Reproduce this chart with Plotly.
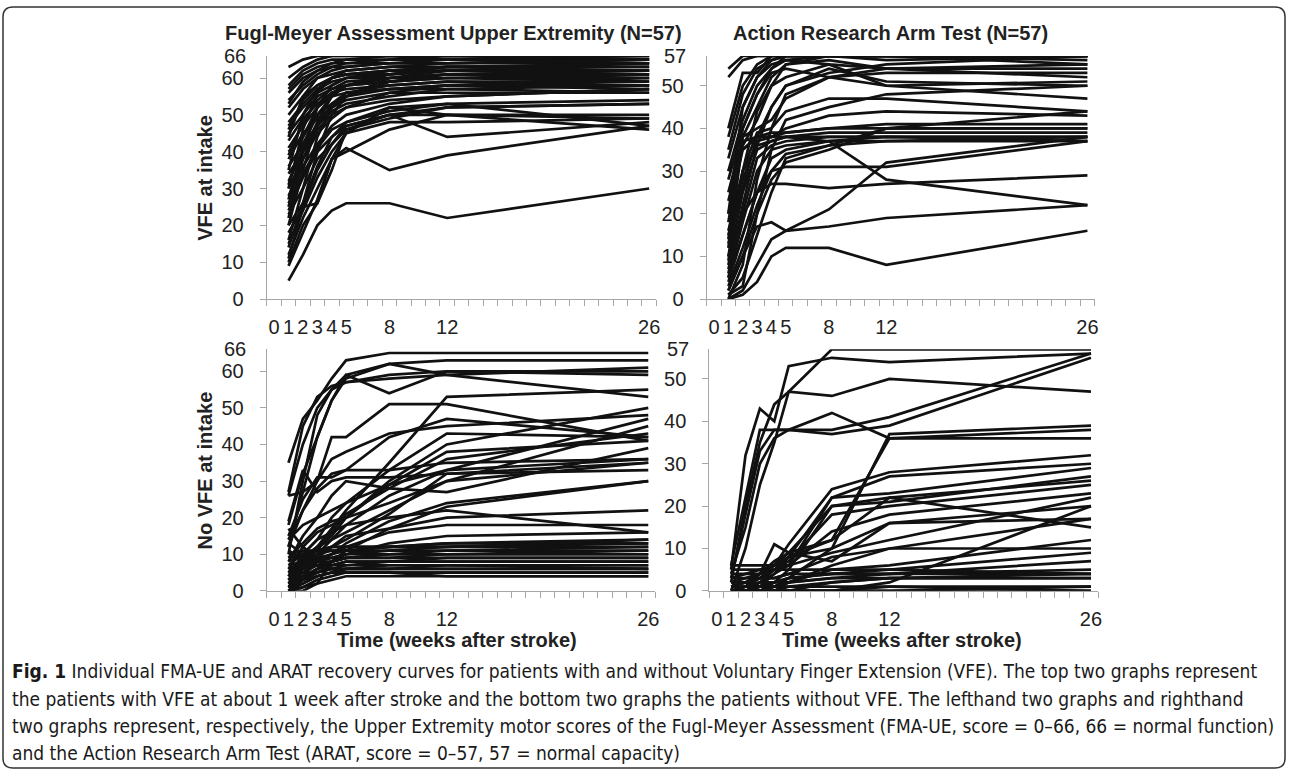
import plotly.graph_objects as go

WEEKS = [1, 2, 3, 4, 5, 8, 12, 26]
X_TICK_VALS = [0, 1, 2, 3, 4, 5, 8, 12, 26]
FMA_TICKS = [0, 10, 20, 30, 40, 50, 60]
ARAT_TICKS = [0, 10, 20, 30, 40, 50]

TITLE_FMA = "Fugl-Meyer Assessment Upper Extremity (N=57)"
TITLE_ARAT = "Action Research Arm Test (N=57)"
ROW_TITLES = ["VFE at intake", "No VFE at intake"]
X_TITLE = "Time (weeks after stroke)"

# FMA-UE, patients with VFE at intake
FMA_VFE = [
    [63, 65, 66, 66, 66, 66, 66, 66], [60, 63, 65, 66, 66, 66, 66, 66],
    [58, 62, 64, 65, 65, 66, 65, 65], [56, 60, 62, 64, 64, 65, 65, 64],
    [54, 58, 61, 63, 64, 64, 64, 65], [52, 57, 60, 61, 62, 63, 63, 63],
    [50, 55, 58, 60, 61, 62, 62, 62], [48, 53, 57, 59, 60, 61, 62, 61],
    [47, 52, 56, 58, 60, 60, 61, 60], [45, 50, 55, 57, 58, 59, 60, 59],
    [43, 49, 53, 56, 57, 58, 59, 58], [41, 47, 52, 55, 56, 57, 58, 57],
    [40, 44, 50, 53, 55, 57, 57, 56], [38, 45, 49, 52, 54, 56, 56, 56],
    [36, 42, 47, 51, 53, 55, 57, 58], [34, 40, 46, 50, 52, 54, 55, 57],
    [32, 40, 48, 52, 55, 60, 62, 64], [30, 38, 45, 49, 52, 56, 58, 60],
    [28, 36, 42, 47, 50, 53, 55, 57], [26, 34, 41, 46, 48, 51, 53, 54],
    [24, 33, 40, 44, 47, 50, 52, 53], [23, 30, 38, 42, 46, 49, 52, 53],
    [20, 26, 36, 44, 48, 52, 50, 50], [18, 25, 35, 42, 47, 50, 50, 49],
    [15, 24, 33, 40, 45, 48, 48, 49], [12, 22, 30, 38, 45, 52, 53, 47],
    [10, 20, 26, 38, 40, 46, 50, 46], [9, 18, 27, 38, 41, 35, 39, 47],
    [11, 25, 26, 35, 46, 50, 44, 48], [5, 12, 20, 24, 26, 26, 22, 30],
    [14, 26, 40, 50, 55, 59, 61, 62], [35, 50, 57, 60, 62, 63, 64, 65],
    [44, 55, 60, 62, 63, 64, 64, 64], [25, 40, 52, 58, 60, 62, 63, 63],
    [30, 46, 56, 60, 61, 61, 62, 62], [20, 35, 48, 55, 58, 60, 60, 61],
    [57, 61, 63, 64, 65, 65, 66, 65], [53, 59, 62, 63, 63, 64, 65, 66],
    [46, 54, 58, 60, 61, 62, 63, 62], [39, 48, 54, 57, 59, 60, 61, 61],
    [31, 44, 52, 56, 58, 59, 60, 60], [22, 38, 47, 53, 56, 58, 59, 59],
    [16, 30, 44, 52, 56, 57, 58, 58], [27, 42, 50, 55, 58, 61, 63, 64],
]

# ARAT, patients with VFE at intake
ARAT_VFE = [
    [54, 57, 57, 57, 57, 57, 57, 57], [52, 56, 57, 57, 57, 57, 57, 57],
    [40, 53, 53, 57, 57, 57, 57, 57], [38, 50, 55, 57, 57, 57, 57, 56],
    [35, 48, 54, 56, 57, 57, 56, 57], [33, 45, 52, 55, 56, 57, 57, 55],
    [30, 42, 50, 54, 56, 55, 54, 54], [28, 40, 48, 53, 54, 52, 53, 53],
    [25, 38, 45, 52, 55, 56, 54, 52], [23, 36, 42, 50, 52, 55, 50, 51],
    [20, 35, 38, 45, 50, 54, 51, 50], [18, 38, 40, 42, 47, 52, 50, 47],
    [16, 30, 39, 40, 44, 47, 47, 44], [15, 28, 37, 38, 40, 43, 44, 43],
    [13, 26, 38, 39, 39, 40, 41, 41], [12, 37, 38, 38, 39, 40, 40, 40],
    [10, 30, 36, 37, 38, 39, 39, 39], [8, 25, 35, 37, 38, 38, 38, 38],
    [7, 20, 33, 36, 37, 38, 38, 38], [5, 18, 30, 35, 36, 37, 38, 37],
    [4, 15, 25, 33, 35, 37, 37, 37], [3, 12, 22, 30, 34, 36, 37, 38],
    [2, 10, 20, 28, 32, 35, 40, 40], [0, 1, 4, 10, 12, 12, 8, 16],
    [0, 2, 8, 14, 16, 17, 19, 22], [2, 10, 17, 18, 16, 21, 32, 38],
    [10, 20, 25, 27, 27, 26, 27, 29], [30, 35, 38, 38, 38, 37, 28, 22],
    [5, 15, 25, 30, 31, 31, 31, 37], [1, 5, 15, 25, 33, 36, 40, 44],
    [6, 22, 36, 45, 50, 53, 55, 57], [0, 8, 28, 40, 48, 52, 54, 55],
    [14, 40, 48, 54, 57, 57, 57, 57], [20, 45, 52, 56, 57, 57, 57, 57],
    [1, 3, 20, 35, 42, 45, 48, 50], [9, 30, 44, 50, 55, 57, 57, 57],
]

# FMA-UE, patients without VFE at intake
FMA_NOVFE = [
    [35, 47, 52, 58, 63, 65, 65, 65], [26, 40, 50, 55, 59, 62, 63, 63],
    [27, 45, 53, 56, 57, 58, 59, 61], [18, 32, 42, 52, 59, 54, 60, 60],
    [12, 27, 42, 52, 58, 62, 59, 53], [10, 30, 48, 55, 57, 59, 60, 59],
    [12, 22, 30, 42, 42, 51, 51, 41], [5, 8, 12, 17, 22, 35, 53, 55],
    [26, 27, 30, 36, 38, 43, 45, 48], [14, 22, 28, 32, 33, 42, 47, 42],
    [19, 33, 27, 30, 31, 31, 32, 35], [8, 15, 20, 26, 30, 28, 27, 39],
    [6, 12, 16, 18, 20, 30, 40, 50], [4, 10, 14, 20, 24, 33, 43, 42],
    [5, 9, 12, 15, 20, 29, 38, 41], [3, 8, 11, 16, 21, 28, 36, 43],
    [2, 7, 10, 14, 18, 26, 33, 36], [4, 9, 12, 14, 16, 22, 30, 35],
    [1, 6, 9, 12, 14, 21, 32, 33], [0, 4, 8, 10, 13, 19, 24, 30],
    [0, 0, 2, 8, 11, 17, 23, 30], [3, 7, 10, 12, 15, 17, 20, 22],
    [2, 5, 8, 10, 12, 16, 18, 18], [1, 3, 6, 8, 10, 13, 15, 16],
    [8, 10, 11, 12, 12, 12, 13, 14], [6, 8, 10, 11, 11, 12, 12, 13],
    [10, 11, 11, 12, 12, 12, 12, 12], [4, 6, 8, 9, 10, 10, 11, 11],
    [3, 5, 7, 8, 9, 10, 10, 10], [5, 6, 7, 8, 9, 9, 9, 9],
    [2, 4, 6, 7, 8, 8, 8, 8], [1, 3, 5, 6, 7, 7, 7, 7],
    [0, 2, 4, 5, 6, 6, 6, 6], [0, 1, 3, 4, 5, 5, 5, 5],
    [0, 1, 2, 3, 4, 4, 4, 4], [7, 10, 14, 16, 18, 20, 22, 16],
    [9, 13, 17, 19, 20, 24, 30, 45], [15, 25, 31, 31, 33, 33, 35, 36],
    [14, 18, 20, 22, 24, 29, 33, 47],
    [1, 2, 4, 5, 5, 5, 5, 5], [3, 4, 5, 6, 6, 6, 7, 7],
    [6, 7, 8, 8, 9, 9, 10, 10], [9, 10, 11, 11, 11, 11, 11, 12],
    [2, 3, 4, 5, 6, 6, 6, 6], [0, 3, 5, 7, 8, 8, 9, 9],
    [5, 7, 9, 10, 11, 12, 13, 13], [1, 4, 6, 8, 9, 10, 10, 11],
    [7, 8, 9, 9, 10, 11, 12, 14], [11, 9, 8, 7, 7, 8, 8, 8],
    [17, 12, 9, 6, 5, 5, 4, 4], [13, 10, 7, 6, 6, 7, 7, 6],
]

# ARAT, patients without VFE at intake
ARAT_NOVFE = [
    [5, 32, 43, 40, 53, 55, 54, 56], [2, 20, 35, 44, 47, 57, 57, 57],
    [0, 10, 25, 35, 47, 46, 50, 47], [6, 22, 38, 38, 38, 38, 41, 56],
    [4, 15, 30, 36, 38, 37, 39, 55], [3, 18, 33, 38, 38, 42, 36, 36],
    [0, 0, 2, 5, 8, 10, 37, 39], [1, 2, 4, 7, 9, 12, 36, 38],
    [0, 1, 3, 6, 11, 24, 28, 32], [6, 6, 6, 6, 6, 22, 27, 30],
    [0, 0, 1, 4, 8, 22, 23, 29], [2, 3, 4, 6, 9, 20, 21, 27],
    [0, 0, 0, 2, 5, 20, 22, 26], [1, 2, 3, 5, 7, 18, 20, 25],
    [0, 1, 2, 4, 6, 14, 18, 23], [3, 4, 5, 6, 8, 12, 22, 15],
    [0, 0, 0, 1, 3, 10, 16, 20], [4, 4, 4, 5, 6, 9, 12, 22],
    [2, 2, 3, 3, 4, 8, 10, 17], [0, 0, 0, 0, 2, 6, 10, 10],
    [0, 0, 0, 1, 2, 5, 6, 12], [1, 1, 2, 2, 3, 4, 5, 9],
    [0, 0, 1, 1, 2, 3, 4, 7], [3, 3, 3, 3, 4, 4, 4, 4],
    [0, 0, 0, 0, 1, 2, 3, 4], [0, 0, 0, 0, 0, 2, 3, 3],
    [0, 0, 0, 0, 0, 0, 1, 1], [0, 0, 0, 0, 0, 0, 0, 0],
    [2, 2, 1, 1, 1, 1, 1, 0], [0, 0, 0, 0, 0, 0, 2, 20],
    [0, 1, 4, 11, 9, 7, 16, 17], [0, 0, 0, 0, 0, 0, 0, 1],
    [1, 1, 1, 2, 2, 3, 3, 3], [0, 0, 1, 2, 3, 4, 4, 5],
    [5, 5, 5, 5, 5, 5, 5, 4],
]

CAPTION_LINES = [
    "<b>Fig. 1</b> Individual FMA-UE and ARAT recovery curves for patients with and without Voluntary Finger Extension (VFE). The top two graphs represent",
    "the patients with VFE at about 1 week after stroke and the bottom two graphs the patients without VFE. The lefthand two graphs and righthand",
    "two graphs represent, respectively, the Upper Extremity motor scores of the Fugl-Meyer Assessment (FMA-UE, score = 0–66, 66 = normal function)",
    "and the Action Research Arm Test (ARAT, score = 0–57, 57 = normal capacity)",
]

W, H = 1292, 782
FONT = "Liberation Sans, Arial, sans-serif"
NARROW = "Liberation Sans Narrow, DejaVu Sans Condensed, Arial Narrow, sans-serif"
LINE_COLOR = "#111111"
AXIS_COLOR = "#a6a6a6"
TEXT_COLOR = "#222222"


def px_x(v):
    return v / W


def px_y(v):
    return 1 - v / H


# panel pixel boxes: (left, right, top, bottom)
panels = [
    ("x", "y", FMA_VFE, 66, FMA_TICKS, (267.7, 658.4, 56.7, 303.3)),
    ("x2", "y2", ARAT_VFE, 57, ARAT_TICKS, (709.0, 1098.0, 56.7, 303.3)),
    ("x3", "y3", FMA_NOVFE, 66, FMA_TICKS, (267.7, 657.5, 354.3, 599.3)),
    ("x4", "y4", ARAT_NOVFE, 57, ARAT_TICKS, (711.7, 1101.6, 354.3, 599.3)),
]

fig = go.Figure()
layout_axes = {}
annotations = []
for xa, ya, data, ymax, yticks, (l, r, t, b) in panels:
    for series in data:
        fig.add_trace(go.Scatter(
            x=WEEKS, y=series, xaxis=xa, yaxis=ya, mode="lines",
            line=dict(color=LINE_COLOR, width=2.7), showlegend=False,
            hoverinfo="skip"))
    xkey = "xaxis" + xa[1:]
    ykey = "yaxis" + ya[1:]
    layout_axes[xkey] = dict(
        domain=[px_x(l), px_x(r)], anchor=ya, range=[-0.5, 26.5],
        tickmode="array", tickvals=X_TICK_VALS, ticks="",
        showline=True, linecolor=AXIS_COLOR, linewidth=1.3,
        showgrid=False, zeroline=False, ticklabelstandoff=10,
        tickfont=dict(family=FONT, size=20, color=TEXT_COLOR),
        minor=dict(tickmode="linear", tick0=-0.5, dtick=1, ticks="outside",
                   ticklen=6, tickwidth=1.2, tickcolor=AXIS_COLOR,
                   showgrid=False),
    )
    layout_axes[ykey] = dict(
        domain=[px_y(b), px_y(t)], anchor=xa, range=[0, ymax],
        tickmode="array", tickvals=yticks, ticks="outside", ticklen=6,
        tickwidth=1.2, tickcolor=AXIS_COLOR,
        showline=True, linecolor=AXIS_COLOR, linewidth=1.3,
        showgrid=False, zeroline=False, ticklabelstandoff=12,
        tickfont=dict(family=FONT, size=20, color=TEXT_COLOR),
    )
    # top-of-scale label (no tick mark at the maximum)
    annotations.append(dict(
        x=px_x(l - 19), xref="paper", y=ymax, yref=ya, text=str(ymax),
        showarrow=False, xanchor="right", yanchor="middle",
        font=dict(family=FONT, size=20, color=TEXT_COLOR)))

fig.update_layout(**layout_axes)


def label(x, y, text, size=20, angle=0, anchor="center", family=FONT, color=TEXT_COLOR):
    return dict(x=px_x(x), y=px_y(y), xref="paper", yref="paper", text=text,
                showarrow=False, xanchor=anchor, yanchor="middle",
                textangle=angle, font=dict(family=family, size=size, color=color))


# panel titles
annotations.append(label(455, 33, "<b>" + TITLE_FMA + "</b>"))
annotations.append(label(893, 33, "<b>" + TITLE_ARAT + "</b>"))
# row titles
for txt, (t, b) in zip(ROW_TITLES, [(56.7, 303.3), (354.3, 599.3)]):
    annotations.append(label(206, (t + b) / 2, "<b>" + txt + "</b>", angle=-90))
# x titles
for cx in [458, 905]:
    annotations.append(label(cx, 649, "<b>" + X_TITLE + "</b>"))
# caption
for i, line in enumerate(CAPTION_LINES):
    annotations.append(label(10, 681 + 27.7 * i, line, size=19.0, anchor="left",
                             family=NARROW, color="#1a1a1a"))

# rounded frame
x0, x1, y0, y1, rr = 3, 1289, 7, 779, 10
path = (f"M {px_x(x0 + rr)} {px_y(y0)} L {px_x(x1 - rr)} {px_y(y0)} "
        f"Q {px_x(x1)} {px_y(y0)} {px_x(x1)} {px_y(y0 + rr)} "
        f"L {px_x(x1)} {px_y(y1 - rr)} Q {px_x(x1)} {px_y(y1)} {px_x(x1 - rr)} {px_y(y1)} "
        f"L {px_x(x0 + rr)} {px_y(y1)} Q {px_x(x0)} {px_y(y1)} {px_x(x0)} {px_y(y1 - rr)} "
        f"L {px_x(x0)} {px_y(y0 + rr)} Q {px_x(x0)} {px_y(y0)} {px_x(x0 + rr)} {px_y(y0)} Z")

fig.update_layout(
    width=W, height=H, margin=dict(l=0, r=0, t=0, b=0),
    paper_bgcolor="white", plot_bgcolor="white",
    annotations=annotations,
    shapes=[dict(type="path", path=path, xref="paper", yref="paper",
                 line=dict(color="#333333", width=1.5))],
)

fig.write_html("out.html")
